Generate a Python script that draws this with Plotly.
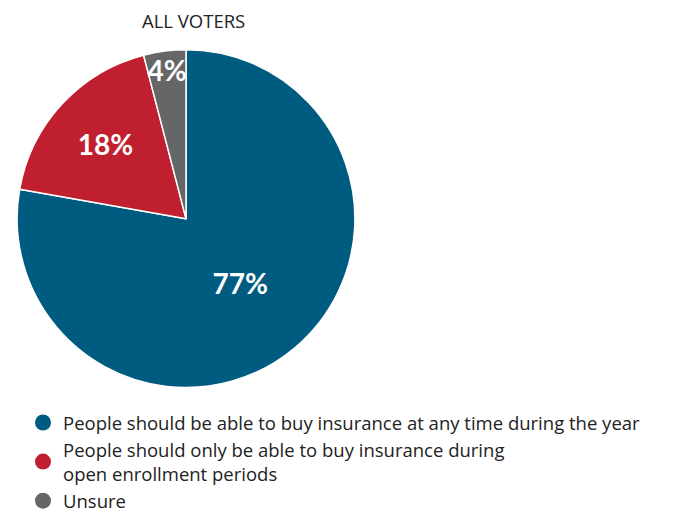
import plotly.graph_objects as go

labels = ["People should be able to buy insurance at any time during the year",
          "People should only be able to buy insurance during<br>open enrollment periods",
          "Unsure"]
values = [77, 18, 4]
value_text = ["77%", "18%", "4%"]
colors = ["#005b80", "#c01f2f", "#666667"]
title_text = "ALL VOTERS"

W, H = 674, 512
fig = go.Figure()
fig.add_trace(go.Pie(
    labels=labels, values=values, text=value_text,
    textinfo="text", textposition="inside", insidetextorientation="horizontal",
    textfont=dict(family="Lato", size=28, color="white", weight=700),
    marker=dict(colors=colors, line=dict(color="white", width=1.5)),
    sort=False, direction="clockwise", rotation=0,
    domain=dict(x=[6 / W, 350 / W], y=[1 - 391 / H, 1 - 43 / H]),
    showlegend=False, hoverinfo="label+text",
))
for lab, col in zip(labels, colors):
    fig.add_trace(go.Scatter(
        x=[None], y=[None], mode="markers", name=lab,
        marker=dict(color=col, size=16, symbol="circle"),
    ))

fig.update_layout(
    width=W, height=H,
    margin=dict(l=0, r=0, t=0, b=0),
    paper_bgcolor="white", plot_bgcolor="white",
    font=dict(family="Open Sans", color="#222222"),
    uniformtext=dict(minsize=26, mode="show"),
    xaxis=dict(visible=False), yaxis=dict(visible=False),
    legend=dict(x=15 / W, y=1 - 408 / H, xanchor="left", yanchor="top",
                font=dict(family="Open Sans", size=18.5, color="#222222"), itemsizing="trace",
                tracegroupgap=0, bgcolor="rgba(0,0,0,0)"),
    annotations=[dict(text=title_text, x=185 / W, y=1 - 13 / H, xref="paper", yref="paper",
                      xanchor="center", yanchor="middle", borderpad=0,
                      showarrow=False, font=dict(family="Open Sans", size=18.5, color="#222222"))],
)
fig.write_html("out.html")
